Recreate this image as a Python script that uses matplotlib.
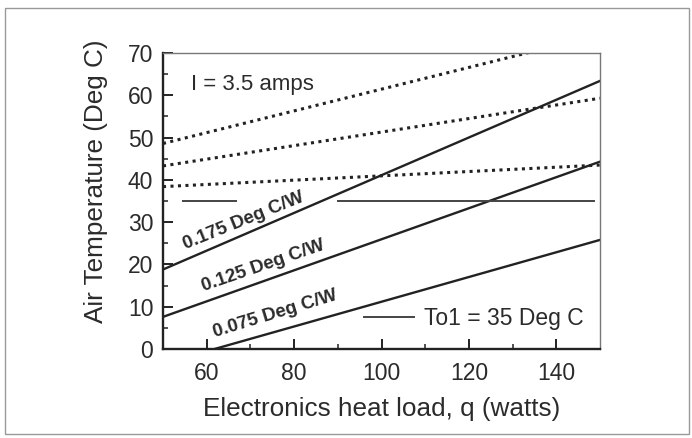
import numpy as np
import matplotlib
matplotlib.use("Agg")
import matplotlib.pyplot as plt
from matplotlib.patches import Rectangle

plt.rcParams['font.family'] = ['Liberation Sans', 'DejaVu Sans']

# heat load (watts) at the ends of each line
q = [50, 150]
# solid lines: air temperature for three heat-sink resistances
t_0175 = [18.8, 63.4]
t_0125 = [7.6, 44.3]
t_0075 = [-3.45, 25.8]
# dotted lines
dot_top = [48.6, 74.3]
dot_mid = [43.3, 59.3]
dot_low = [38.4, 43.5]
# To1 = 35 Deg C line (drawn in two pieces around the label)
to1 = 35
to1_pieces = [(54.5, 66.7), (90.1, 148.6)]

labels = ['0.175 Deg C/W', '0.125 Deg C/W', '0.075 Deg C/W']
label_pos = [(68.5, 30.3), (72.9, 19.7), (75.7, 8.3)]
label_rot = [22, 19, 17]

ink = '#222222'
txt = '#2b2b2b'

fig = plt.figure(figsize=(6.92, 4.38), dpi=100)
fig.patches.append(Rectangle((5 / 692, 4 / 438), 684 / 692, 426 / 438,
                             transform=fig.transFigure, fill=False,
                             edgecolor='#999999', linewidth=1.0))
ax = fig.add_axes([163 / 692, 1 - 349 / 438, 437 / 692, 296 / 438])

for ys in [t_0175, t_0125, t_0075]:
    ax.plot(q, ys, color=ink, linewidth=1.7)
for ys in [dot_top, dot_mid, dot_low]:
    ax.plot(q, ys, color=ink, linewidth=2.2, linestyle=(0, (1, 1.45)),
            dash_capstyle='butt')
for i, (a, b) in enumerate(to1_pieces):
    ax.plot([a, b], [to1, to1], color='#444444', linewidth=1.4,
            label='To1 = 35 Deg C' if i == 0 else None)

for s, (x, y), r in zip(labels, label_pos, label_rot):
    ax.text(x, y, s, rotation=r, rotation_mode='anchor', ha='center',
            va='center', fontsize=13.5, fontweight='bold', color=txt)

ax.text(56.3, 62.5, 'I = 3.5 amps', fontsize=16, color=txt, va='center')

ax.set_xlim(50, 150)
ax.set_ylim(0, 70)
ax.set_xticks([60, 80, 100, 120, 140])
ax.set_xticks([70, 90, 110, 130], minor=True)
ax.set_yticks(range(0, 71, 10))
ax.set_yticks(range(5, 70, 10), minor=True)
ax.tick_params(which='major', direction='in', length=7, width=1.4,
               labelsize=16.5, labelcolor=txt, color=ink)
ax.tick_params(axis='x', which='major', pad=9)
ax.tick_params(axis='y', which='major', pad=7)
ax.tick_params(which='minor', direction='in', length=3.5, width=1.1, color=ink)

for side in ['left', 'bottom']:
    ax.spines[side].set_linewidth(1.7)
    ax.spines[side].set_color(ink)
for side in ['top', 'right']:
    ax.spines[side].set_linewidth(1.0)
    ax.spines[side].set_color('#777777')

ax.set_xlabel('Electronics heat load, q (watts)', fontsize=18.8, color=txt,
              labelpad=9)
ax.set_ylabel('Air Temperature (Deg C)', fontsize=18.8, color=txt)
ax.yaxis.set_label_coords(-0.125, 0.568)

ax.legend(loc='lower right', bbox_to_anchor=(1.0, 0.01), frameon=False,
          fontsize=16.5, handlelength=2.2, handletextpad=0.45,
          labelcolor=txt, borderaxespad=0.3)

fig.savefig('out.png', dpi=100)
